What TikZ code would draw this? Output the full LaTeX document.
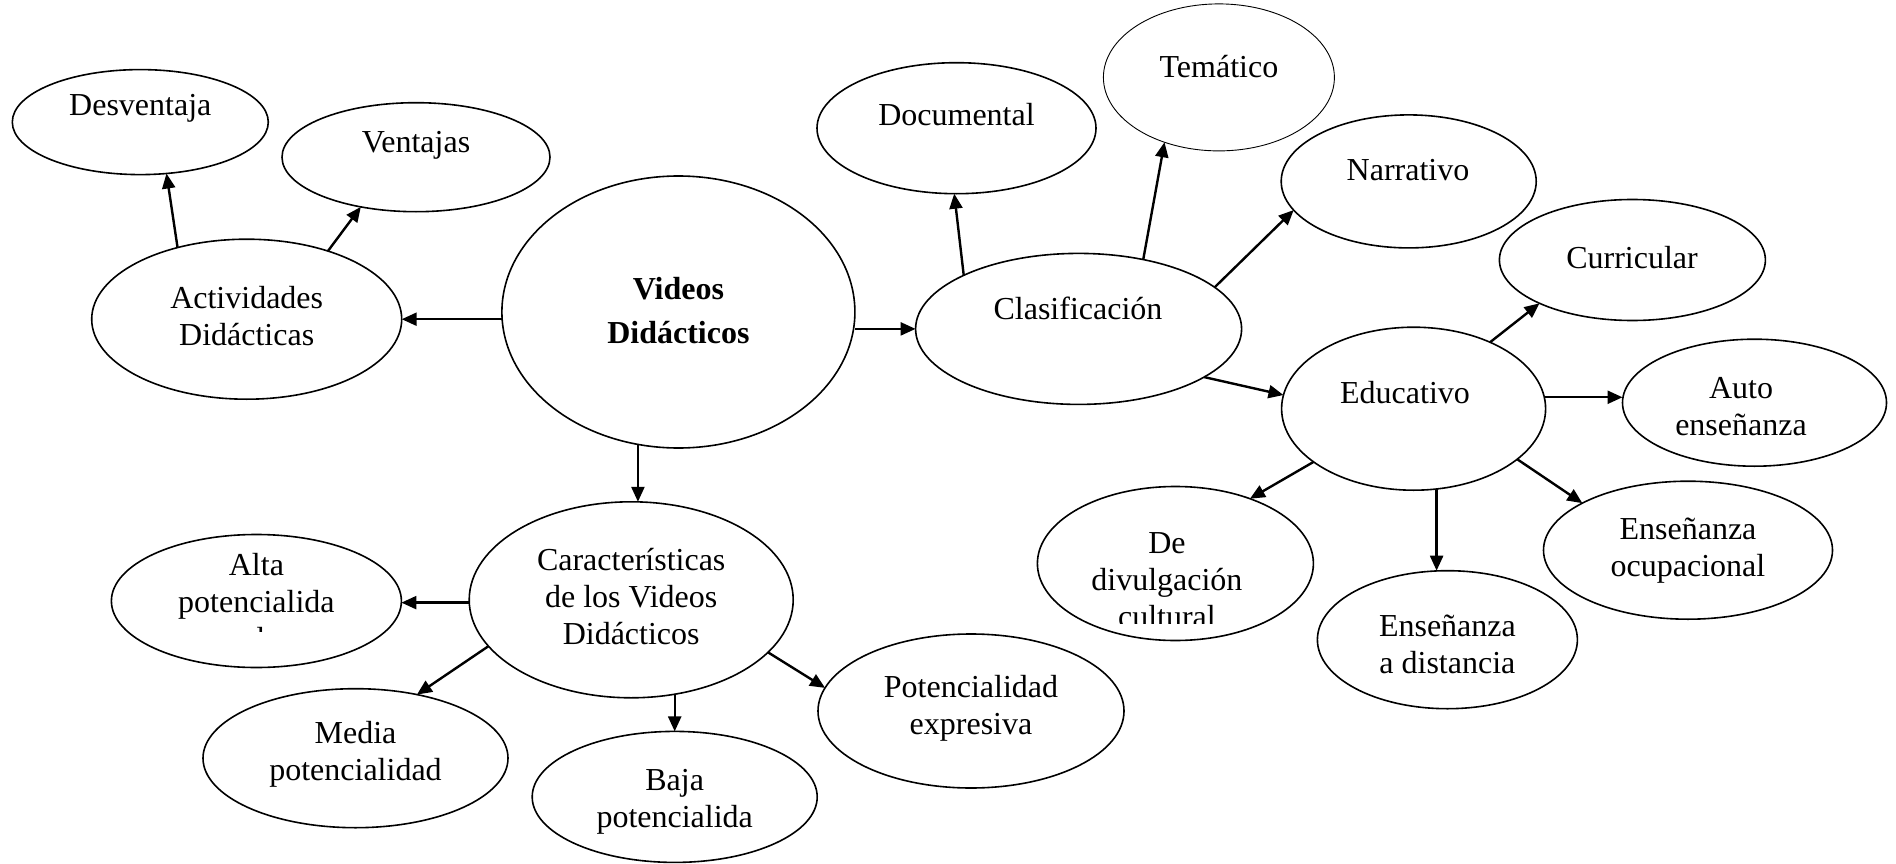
\documentclass[tikz,border=0pt]{standalone}
\usepackage{fontspec}
\setmainfont{Liberation Serif}
\usetikzlibrary{arrows.meta,shapes.geometric}
\begin{document}
\begin{tikzpicture}[x=1pt,y=-1pt,
  el/.style={draw, ellipse, line width=1.6pt, inner sep=0pt, outer sep=0pt},
  thin el/.style={el, line width=0.9pt},
  lbl/.style={align=center, font=\fontsize{32}{37}\selectfont, inner sep=0pt},
  blbl/.style={align=center, font=\fontsize{32}{43.5}\selectfont\bfseries, inner sep=0pt},
  arr/.style={line width=2.4pt, -{Triangle[length=15pt,width=13pt]}}]
\useasboundingbox (0,0) rectangle (1896,864);

% ellipses
\node[el, minimum width=256pt, minimum height=105pt] (des) at (140.3,122.1) {};
\node[el, minimum width=268pt, minimum height=109pt] (ven) at (416,157.2) {};
\node[el, minimum width=310pt, minimum height=160pt] (act) at (246.7,319.2) {};
\node[el, minimum width=353pt, minimum height=272pt] (vid) at (678.4,312) {};
\node[el, minimum width=326pt, minimum height=151pt] (cla) at (1078.6,328.9) {};
\node[el, minimum width=279pt, minimum height=131pt] (doc) at (956.5,128.2) {};
\node[thin el, minimum width=231pt, minimum height=147pt] (tem) at (1218.9,77.4) {};
\node[el, minimum width=255pt, minimum height=133pt] (nar) at (1408.7,181.4) {};
\node[el, minimum width=266pt, minimum height=121pt] (cur) at (1632.4,260) {};
\node[el, minimum width=264pt, minimum height=163pt] (edu) at (1413.6,408.7) {};
\node[el, minimum width=264pt, minimum height=127pt] (aut) at (1754.5,402.7) {};
\node[el, minimum width=289pt, minimum height=138pt] (eo) at (1688,550.2) {};
\node[el, minimum width=260pt, minimum height=138pt] (ed) at (1447.4,639.7) {};
\node[el, minimum width=276pt, minimum height=154pt] (div) at (1175.4,563.5) {};
\node[el, minimum width=324pt, minimum height=196pt] (car) at (631.2,599.8) {};
\node[el, minimum width=290pt, minimum height=133pt] (alt) at (256.4,601) {};
\node[el, minimum width=305pt, minimum height=139pt] (med) at (355.5,758.2) {};
\node[el, minimum width=285pt, minimum height=131pt] (baj) at (674.7,796.9) {};
\node[el, minimum width=306pt, minimum height=154pt] (pe) at (971,711) {};

% labels
\node[lbl] (desT) at (140.3,108.8) {Desventaja};
\node[lbl] (venT) at (416,145.1) {Ventajas};
\node[lbl] (actT) at (246.7,315.7) {Actividades\\Didácticas};
\node[blbl] (vidT) at (678.4,310.8) {Videos\\Didácticos};
\node[lbl] (claT) at (1078,308.3) {Clasificación};
\node[lbl] (docT) at (956.5,114.9) {Documental};
\node[lbl] (temT) at (1218.9,66.5) {Temático};
\node[lbl] (narT) at (1408,170.5) {Narrativo};
\node[lbl] (curT) at (1632,257.6) {Curricular};
\node[lbl] (eduT) at (1405,393) {Educativo};
\node[lbl] (autT) at (1741,406.3) {Auto\\enseñanza};
\node[lbl] (eoT) at (1688,550.2) {Enseñanza\\ocupacional};
\node[lbl] (edT) at (1447.4,644.5) {Enseñanza\\a distancia};
\begin{scope}
\clip (1000,500) rectangle (1350,623);
\node[lbl] (divT) at (1166.9,580.5) {De\\divulgación\\cultural};
\end{scope}
\node[lbl] (carT) at (631.2,596.9) {Características\\de los Videos\\Didácticos};
\begin{scope}
\clip (100,520) rectangle (420,631);
\node[lbl] (altT) at (256.4,601.3) {Alta\\potencialida\\d};
\end{scope}
\node[lbl] (medT) at (355.5,754.6) {Media\\potencialidad};
\node[lbl] (bajT) at (674.7,801.7) {Baja\\potencialida};
\node[lbl] (peT) at (971,708) {Potencialidad\\expresiva};

% connectors
\draw[arr] (act.134.5) -- (des.-63.5);
\draw[arr] (act.40) -- (ven.-138.5);
\draw[arr] (vid.west |- act.east) -- (act.east);
\draw[arr] (vid.east |- cla.west) -- (cla.west);
\draw[arr] (vid.-107.5) -- (vid.-107.5 |- car.north);
\draw[arr] (cla.155.2) -- (doc.-92.5);
\draw[arr] (cla.47) -- (tem.-130.1);
\draw[arr] (cla.17.9) -- (nar.-166.7);
\draw[arr] (cla.-21.1) -- (edu.174.9);
\draw[arr] (edu.41.2) -- (cur.-155.2);
\draw[arr] (edu.5) -- (edu.5 -| aut.west);
\draw[arr] (edu.-26) -- (eo.156.3);
\draw[arr] (edu.-74.2) -- (edu.-74.2 |- ed.north);
\draw[arr] (edu.-152.6) -- (div.41.9);
\draw[arr] (car.181.5) -- (car.181.5 -| alt.east);
\draw[arr] (car.-162.9) -- (med.46);
\draw[arr] (baj.north |- car.-64) -- (baj.north);
\draw[arr] (car.-21.3) -- (pe.171.9);
\end{tikzpicture}
\end{document}
